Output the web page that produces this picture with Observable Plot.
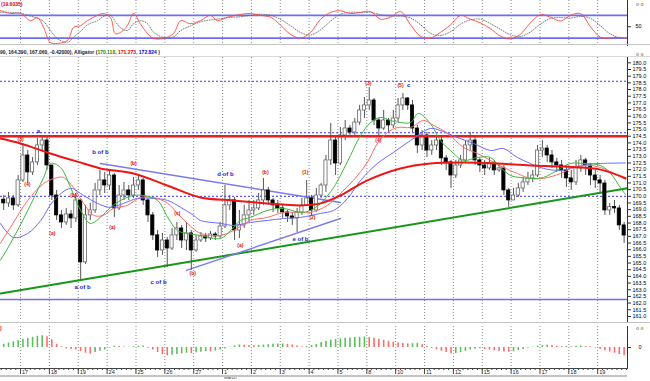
<!DOCTYPE html>
<html><head><meta charset="utf-8">
<script src="https://cdn.jsdelivr.net/npm/d3@7"></script>
<script src="https://cdn.jsdelivr.net/npm/@observablehq/plot@0.6"></script>
<style>
body{margin:0;background:#fff;}
#wrap{position:relative;width:650px;height:381px;overflow:hidden;background:#fff;font-family:"Liberation Sans",Arial,sans-serif;}
.pane{position:absolute;left:0;}
.sep{position:absolute;left:0;background:#c4c4c4;}
.hdr{position:absolute;font-size:5px;font-weight:bold;white-space:nowrap;line-height:6px;}
</style></head><body>
<div id="wrap">
  <div class="pane" id="stoch" style="top:0"></div>
  <div class="pane" id="main" style="top:57px"></div>
  <div class="pane" id="ao" style="top:323px"></div>
  <div class="sep" style="top:43.5px;width:650px;height:1.5px"></div>
  <div class="sep" style="top:56px;width:650px;height:1px;background:#d8d8d8"></div>
  <div class="sep" style="top:321.5px;width:650px;height:1.5px"></div>
  <div class="sep" style="top:375px;width:627px;height:1.5px"></div>
  <div class="hdr" style="left:1px;top:1px;color:#e00000">(19.6035)</div>
  <div class="hdr" style="left:0;top:49px;color:#222">90, 164.390, 167.060, -0.42000), Alligator (<span style="color:#0a8a0a">170.118</span>, <span style="color:#e00000">171.273</span>, <span style="color:#0000e0">172.824</span> )</div>
  <div class="hdr" style="left:0;top:325px;color:#e00000">)</div>
  <div class="hdr" style="left:636px;top:1px;color:#888">o o</div>
  <div class="hdr" style="left:636px;top:51px;color:#888">o o</div>
  <div class="hdr" style="left:636px;top:325px;color:#888">o o</div>
</div>
<script>
// ---------- data ----------
const firstOpen = 169.75;
const closes = [169.47,169.84,169.32,171.19,173.06,171.79,172.54,173.81,174.18,172.31,
 170.06,168.57,168.04,168.64,168.34,169.69,165.05,168.57,168.94,170.44,
 171.19,170.81,171.56,169.09,170.06,170.44,170.06,170.81,171.19,169.69,
 168.57,167.07,165.94,166.69,166.09,167.07,167.59,166.69,167.22,165.94,
 166.69,166.99,166.84,167.14,166.99,167.74,169.32,169.69,167.44,167.82,
 168.57,168.94,169.09,169.69,170.44,169.69,169.32,169.09,168.79,168.49,
 168.34,168.79,169.32,169.84,168.94,170.06,170.81,172.69,174.18,172.46,
 174.56,175.08,174.78,175.53,176.43,176.81,177.18,175.68,175.08,175.68,
 175.31,175.83,176.81,177.33,176.81,175.08,173.81,174.56,173.43,173.81,
 174.18,172.84,172.54,171.56,172.31,172.69,173.81,174.18,172.69,172.31,
 172.09,172.46,171.94,172.09,170.44,169.69,170.06,170.59,171.04,171.34,
 171.56,173.43,173.58,173.06,172.54,172.31,171.94,171.34,171.04,172.09,
 172.69,172.31,171.56,171.19,170.96,168.94,169.20,169.09,167.82,167.06];
const highs = [170.06,170.29,170.06,171.56,173.96,173.43,172.91,174.33,174.56,174.41,
 172.31,170.44,168.94,169.09,168.94,170.21,169.69,169.32,169.47,170.96,
 171.94,171.79,171.94,171.70,170.81,171.04,170.81,171.41,171.56,171.34,
 169.84,168.79,167.44,167.22,166.92,167.59,168.04,167.82,167.97,167.44,
 167.07,167.29,167.22,167.37,167.29,168.04,170.81,170.06,169.91,168.94,
 169.32,169.69,169.69,170.21,171.34,170.66,169.84,169.69,169.32,168.94,
 168.79,169.09,169.84,171.19,170.06,170.59,170.96,173.06,175.46,174.41,
 175.16,175.68,175.31,175.83,176.81,177.40,178.15,177.33,175.83,176.43,
 175.83,176.43,177.33,177.70,177.40,177.18,175.31,174.93,174.78,174.18,
 174.56,174.41,173.06,172.69,172.69,173.06,174.18,174.78,174.41,172.84,
 172.69,172.84,172.69,172.46,172.31,170.59,170.59,170.96,171.41,171.79,
 171.94,173.81,174.18,173.81,173.43,172.84,172.69,172.31,171.94,172.69,
 173.06,172.84,172.46,171.94,171.56,171.19,169.47,169.69,169.32,168.04];
const lows = [168.94,169.17,168.94,169.17,171.04,170.96,171.56,172.31,173.43,171.94,
 169.69,168.19,167.59,167.82,167.59,168.04,163.70,164.90,168.19,168.72,
 170.06,170.21,170.44,168.42,168.94,169.69,169.69,169.84,170.44,169.32,
 168.04,166.69,165.42,165.57,164.67,165.94,166.69,166.09,165.94,164.45,
 165.80,166.54,166.54,166.69,166.69,166.84,167.59,168.94,166.69,166.84,
 167.59,168.04,168.57,168.94,169.32,169.32,168.79,168.72,168.34,168.04,
 167.82,167.29,168.57,169.32,168.57,168.79,169.84,170.29,172.31,171.56,
 172.31,174.18,174.41,174.56,175.31,175.83,176.43,175.31,174.41,174.93,
 174.78,175.08,175.53,176.43,176.43,174.78,173.21,173.43,172.91,173.06,
 173.43,172.31,171.94,170.59,171.34,172.09,172.54,173.43,172.31,171.79,
 171.56,171.94,171.56,171.79,170.06,169.17,169.69,169.91,170.29,170.81,
 171.04,171.41,172.91,172.54,172.09,171.79,171.34,170.66,170.44,170.81,
 171.79,171.56,170.81,170.59,170.29,168.57,168.57,168.72,167.44,166.47];

// Moving average (thick red) and Alligator lines: [candle index, price]
const maIdx  = [-0.7,3.5,9.7,16.6,20.1,27,34,40.9,47.8,54.8,61.7,65.9,70,75.6,82.5,88.7,95.6,102.7,109.5,116.4,124.1,129.3];
const maVal  = [174.33,173.96,173.21,172.46,172.09,171.71,170.81,169.91,169.69,169.47,169.32,169.47,170.06,171.19,172.09,172.46,172.54,172.46,172.31,172.23,172.0,171.35];
const lipsIdx = [-0.7,1.4,5,8.3,9.7,11.8,13.9,16,18,20.1,22.2,24.3,27,29.1,32,34.1,36.1,38.2,40.9,45.1,47.2,49.2,51.3,54.8,58.2,61.7,63.8,65.9,68.6,70,72.1,74.2,76.3,78.3,80.4,82.5,84.6,86.2,88.7,90.8,92.9,95.6,98.5,101.2,103.3,105.4,107.4,109.5,112.2,115.1,117.8,120.5,124.1,126.2,128.2,129.3];
const lipsVal = [165.2,166.47,168.94,171.41,172.46,172.16,170.66,168.94,167.97,168.42,169.17,169.69,170.06,170.06,169.69,168.42,167.44,167.22,167.07,166.84,167.44,168.19,168.42,168.94,169.09,168.79,168.94,169.47,170.66,171.56,173.06,174.56,175.53,175.91,175.68,175.53,175.53,176.21,175.46,174.18,173.43,172.69,172.91,172.91,172.16,171.56,171.41,171.34,171.41,171.94,172.46,172.46,172.31,171.71,170.66,170.12];
const teethIdx = [-0.7,1.4,5,8.3,11.2,12.4,14.5,16.6,18.7,20.7,22.8,25.7,28.4,31.1,34.1,36.1,38.2,40.9,45.1,47.8,51.3,54.8,58.2,61.7,63.8,67.3,70,72.7,75.6,77.7,79.8,81.9,84.6,87.3,89.4,92.3,95.6,98.5,101.2,103.9,106.8,109.5,112.2,115.8,118.5,121.4,124.1,129.3];
const teethVal = [166.47,167.67,169.69,170.96,171.41,171.41,170.66,169.47,168.57,168.57,169.09,169.32,169.91,169.91,169.47,168.72,167.97,167.22,167.07,167.44,168.19,168.42,168.79,168.79,168.79,169.32,170.21,171.19,172.54,173.96,174.78,175.16,175.16,175.68,175.31,174.71,173.66,173.21,172.69,172.16,171.71,171.34,171.34,171.71,172.16,172.31,172.16,171.27];
const jawIdx = [-0.7,2,5,7.7,10.4,13.9,16.6,19.5,22.2,24.9,27.8,31.1,34.1,36.8,39.5,40.9,45.1,47.8,51.3,54.8,58.2,61.7,65.9,68.6,71.5,74.2,77.7,81,84.6,88.7,90.8,94.3,97.7,101.2,103.9,106.8,109.5,112.2,115.8,118.5,121.4,124.1,129.3];
const jawVal = [167.97,166.92,167.22,168.19,169.69,170.59,170.06,169.47,169.17,169.47,169.84,169.84,169.69,169.17,168.57,168.19,167.97,167.82,168.04,168.19,168.34,168.42,168.72,168.94,169.84,171.19,172.46,173.28,174.18,175.08,174.93,174.41,173.96,173.43,173.58,172.91,172.46,172.09,171.94,172.16,172.39,172.46,172.5];

// Horizontal levels and trend lines
const blueDotLevels = [178.62, 174.76, 170.0];
const redLevel = [174.5];
const purpleLevel = [162.27];
const greenTrendIdx = [-0.67, 129.7], greenTrendVal = [162.72, 170.61];
const bOfBIdx = [20.1, 70.0], bOfBVal = [172.46, 169.54];
const eOfBIdx = [38.0, 70.0], eOfBVal = [164.45, 168.34];

// Wave labels
const blueText  = ["a","b of b","a of b","c of b","d of b","e of b","c"];
const blueIdx   = [7.2,20.1,16.4,32.2,46.1,61.7,84.2];
const bluePrice = [174.9,173.3,163.2,163.55,171.7,166.8,178.3];
const redText  = ["(3)","(4)","(a)","(b)","(a)","(b)","(c)","(b)","(a)","(b)","(1)","(2)","(3)","(4)","(5)"];
const redIdx   = [3.5,4.9,10.1,14.5,22.6,27.0,36.1,39.3,49.2,54.4,62.7,64.2,75.8,77.9,82.5];
const redPrice = [174.25,170.9,167.2,170.1,167.7,172.5,168.7,164.2,166.3,171.8,171.8,168.4,178.45,174.2,178.3];

// Stochastic
const kIdx = [-0.7,1.4,3.5,5.6,7,8.3,9.7,11.2,13.3,14.5,16,17.4,19.5,20.7,22.2,23.2,24.3,25.7,27,28.4,29.9,31.1,33.2,35.3,36.8,38.8,40.9,43,44.4,46.5,49,51.3,53.4,55.5,57.5,59.6,61.7,63.8,65.9,68,70,72.1,74.2,76.3,78.3,80.4,82.5,84.6,86.6,88.7,90.8,92.9,95,97,99.1,101.2,103.3,105.3,107.4,109.5,111.6,113.7,115.8,117.8,119.9,122,124.1,126.1,128,129.3];
const kVal = [93,85,85,66,74,48,8,6,14,48,53,66,80,85,74,32,35,53,85,58,32,19,19,32,66,58,66,80,66,75,82,85,80,75,55,30,20,35,70,88,92,85,88,90,70,75,90,55,25,20,35,55,80,70,60,45,25,18,30,60,82,75,65,80,85,50,22,20,22,19];
const dIdx = [-0.7,1.4,3.5,5.6,7,8.3,9.7,11.2,13.3,14.5,16,17.4,19.5,20.7,22.2,23.2,24.3,25.7,27,28.4,29.9,31.1,33.2,35.3,36.8,38.8,40.9,43,44.4,46.5,49,51.3,53.4,55.5,57.5,59.6,61.7,63.8,65.9,68,70,72.1,74.2,76.3,78.3,80.4,82.5,84.6,86.6,88.7,90.8,92.9,95,97,99.1,101.2,103.3,105.3,107.4,109.5,111.6,113.7,115.8,117.8,119.9,122,124.1,126.1,128,129.3];
const dVal = [88,88,86,78,72,64,40,18,9,22,38,55,66,77,80,64,47,40,58,66,58,36,22,23,40,52,63,68,70,74,76,80,83,80,70,53,35,28,42,65,83,88,88,88,82,78,78,73,56,33,27,37,57,68,70,58,43,29,24,36,57,72,74,73,77,72,52,31,21,20];
const stochLevels = [80, 20];

// Awesome-oscillator histogram (one per candle)
const aoVal = [0.25,0.35,0.45,0.55,0.65,0.72,0.8,0.88,0.93,0.85,
 0.6,0.25,0.05,-0.1,-0.15,-0.2,-0.3,-0.45,-0.52,-0.4,
 -0.3,-0.2,-0.05,0.1,0.08,0.04,0.02,0.06,0.1,0.12,
 -0.05,-0.2,-0.4,-0.55,-0.65,-0.6,-0.55,-0.5,-0.45,-0.47,
 -0.42,-0.38,-0.32,-0.34,-0.28,-0.2,-0.12,0.02,0.12,0.2,
 0.18,0.15,0.13,0.16,0.19,0.22,0.25,0.27,0.28,0.25,
 0.2,0.12,0.04,0.08,0.15,0.25,0.4,0.5,0.58,0.63,
 0.68,0.72,0.75,0.78,0.8,0.83,0.79,0.72,0.64,0.56,
 0.48,0.42,0.36,0.32,0.28,0.3,0.32,0.22,0.08,-0.06,
 -0.18,-0.3,-0.4,-0.5,-0.48,-0.4,-0.3,-0.2,-0.14,-0.1,
 -0.15,-0.2,-0.25,-0.3,-0.35,-0.38,-0.33,-0.25,-0.15,-0.06,
 0.03,0.1,0.15,0.18,0.15,0.1,0.06,0.08,0.06,0.09,
 0.11,0.08,0.04,-0.05,-0.15,-0.25,-0.35,-0.45,-0.55,-0.65];

// Axes
const priceTicks = [161.0,161.5,162.0,162.5,163.0,163.5,164.0,164.5,165.0,165.5,166.0,166.5,167.0,167.5,168.0,168.5,169.0,169.5,170.0,170.5,171.0,171.5,172.0,172.5,173.0,173.5,174.0,174.5,175.0,175.5,176.0,176.5,177.0,177.5,178.0,178.5,179.0,179.5,180.0];
const dayTicks  = [3.5,9.5,15.5,21.5,27.5,33.5,39.5,45.5,51.5,57.5,63.5,69.5,75.5,81.5,87.5,93.5,99.5,105.5,111.5,117.5,123.5];
const dayLabels = ["17","18","19","24","25","26","27","1","2","3","4","5","8","10","11","12","15","16","17","18","19"];
const monthLabel = ["March"];

// ---------- build ----------
const candles = closes.map((c, i) => ({i, open: i === 0 ? firstOpen : closes[i-1], close: c, high: highs[i], low: lows[i]}));
const pts = (ix, vs) => ix.map((i, k) => ({i, v: vs[k]}));
const ma = pts(maIdx, maVal), lips = pts(lipsIdx, lipsVal), teeth = pts(teethIdx, teethVal), jaw = pts(jawIdx, jawVal);
const gTrend = pts(greenTrendIdx, greenTrendVal), bTrend = pts(bOfBIdx, bOfBVal), eTrend = pts(eOfBIdx, eOfBVal);
const blueLab = blueText.map((t, k) => ({t, i: blueIdx[k], p: bluePrice[k]}));
const redLab = redText.map((t, k) => ({t, i: redIdx[k], p: redPrice[k]}));
const stochK = pts(kIdx, kVal), stochD = pts(dIdx, dVal);
const ao = aoVal.map((v, i) => ({i, v, up: i === 0 ? true : v >= aoVal[i-1]}));
const days = dayLabels.map((t, k) => ({t, i: dayTicks[k]}));
const march = [{t: monthLabel[0], i: dayTicks[7]}];

const XD = [-0.67, 129.7];
const font = "Liberation Sans, Arial, sans-serif";
const style = {background: "transparent", fontSize: "5.5px", fontFamily: font, overflow: "visible"};
const grid = Plot.gridX(dayTicks, {stroke: "#8a8a8a", strokeOpacity: 1, strokeDasharray: "1,2"});

const stoch = Plot.plot({
  width: 650, height: 45, marginLeft: 0, marginRight: 23, marginTop: 0, marginBottom: 0, style,
  x: {domain: XD, axis: null}, y: {domain: [0.4, 119.3], label: null},
  marks: [
    grid,
    Plot.ruleY(stochLevels, {stroke: "#6b6bff", strokeWidth: 1.6}),
    Plot.line(stochD, {x: "i", y: "v", stroke: "#6a6a6a", strokeWidth: 0.9, strokeDasharray: "0.9,1.6", curve: "catmull-rom"}),
    Plot.line(stochK, {x: "i", y: "v", stroke: "#ff4a3a", strokeWidth: 0.9, curve: "catmull-rom"}),
    Plot.axisY([50], {anchor: "right", label: null, tickSize: 3, tickPadding: 5, fontSize: 5.5, stroke: "#333"}),
    Plot.frame({anchor: "right", stroke: "#333"})
  ]
});
document.getElementById("stoch").appendChild(stoch);

const main = Plot.plot({
  width: 650, height: 264, marginLeft: 0, marginRight: 23, marginTop: 0, marginBottom: 0, style,
  x: {domain: XD, axis: null}, y: {domain: [160.62, 180.4], label: null},
  marks: [
    grid,
    Plot.ruleY(blueDotLevels, {stroke: "#3535ff", strokeDasharray: "2,2", strokeWidth: 1}),
    Plot.ruleY(purpleLevel, {stroke: "#7a6ee8", strokeWidth: 1.5}),
    Plot.line(gTrend, {x: "i", y: "v", stroke: "#17961a", strokeWidth: 2}),
    Plot.line(bTrend, {x: "i", y: "v", stroke: "#7b7bf0", strokeWidth: 1.4}),
    Plot.line(eTrend, {x: "i", y: "v", stroke: "#7b7bf0", strokeWidth: 1.4}),
    Plot.ruleX(candles, {x: "i", y1: "low", y2: "high", stroke: "#555", strokeWidth: 1}),
    Plot.rect(candles, {x1: d => d.i - 0.33, x2: d => d.i + 0.33, y1: "open", y2: "close",
      fill: d => d.close >= d.open ? "#ffffff" : "#000000",
      stroke: d => d.close >= d.open ? "#666666" : "#000000", strokeWidth: 0.8}),
    Plot.ruleY(redLevel, {stroke: "#ee1b1b", strokeWidth: 2.5}),
    Plot.line(jaw, {x: "i", y: "v", stroke: "#6a6aff", strokeWidth: 1, curve: "catmull-rom"}),
    Plot.line(teeth, {x: "i", y: "v", stroke: "#ff6a6a", strokeWidth: 1, curve: "catmull-rom"}),
    Plot.line(lips, {x: "i", y: "v", stroke: "#3cb83c", strokeWidth: 1, curve: "catmull-rom"}),
    Plot.line(ma, {x: "i", y: "v", stroke: "#ee1515", strokeWidth: 2, curve: "catmull-rom"}),
    Plot.text(blueLab, {x: "i", y: "p", text: "t", fill: "#1a1ae0", fontSize: 6, fontWeight: "bold"}),
    Plot.text(redLab, {x: "i", y: "p", text: "t", fill: "#e01010", fontSize: 5, fontWeight: "bold"}),
    Plot.axisY(priceTicks, {anchor: "right", label: null, tickSize: 3, tickPadding: 2, fontSize: 5.5, tickFormat: d => d.toFixed(1), stroke: "#333"}),
    Plot.frame({anchor: "right", stroke: "#333"})
  ]
});
document.getElementById("main").appendChild(main);

const aoPlot = Plot.plot({
  width: 650, height: 58, marginLeft: 0, marginRight: 23, marginTop: 3, marginBottom: 13, style,
  x: {domain: XD, label: null}, y: {domain: [-1.65, 1.65], label: null},
  marks: [
    grid,
    Plot.ruleX(ao, {x: "i", y1: 0, y2: "v", stroke: d => d.up ? "#5cbf5c" : "#ff6b6b", strokeWidth: 1.6}),
    Plot.axisY([0], {anchor: "right", label: null, tickSize: 3, tickPadding: 8, fontSize: 5.5, stroke: "#333"}),
    Plot.frame({anchor: "right", stroke: "#333"}),
    Plot.frame({anchor: "bottom", stroke: "#444"}),
    Plot.axisX(d3.range(-0.5, 130, 1), {label: null, tickSize: 2, tickFormat: () => "", stroke: "#444"}),
    Plot.axisX(dayTicks, {label: null, tickSize: 6, tickFormat: () => "", stroke: "#444"}),
    Plot.text(days, {x: "i", text: "t", frameAnchor: "bottom", dy: 1.2, dx: 1.5, textAnchor: "start", lineAnchor: "top", fontSize: 5.5, fill: "#222"}),
    Plot.text(march, {x: "i", text: "t", frameAnchor: "bottom", dy: 7.5, dx: 1.5, textAnchor: "start", lineAnchor: "top", fontSize: 4.5, fill: "#333"})
  ]
});
document.getElementById("ao").appendChild(aoPlot);
</script>
</body></html>
